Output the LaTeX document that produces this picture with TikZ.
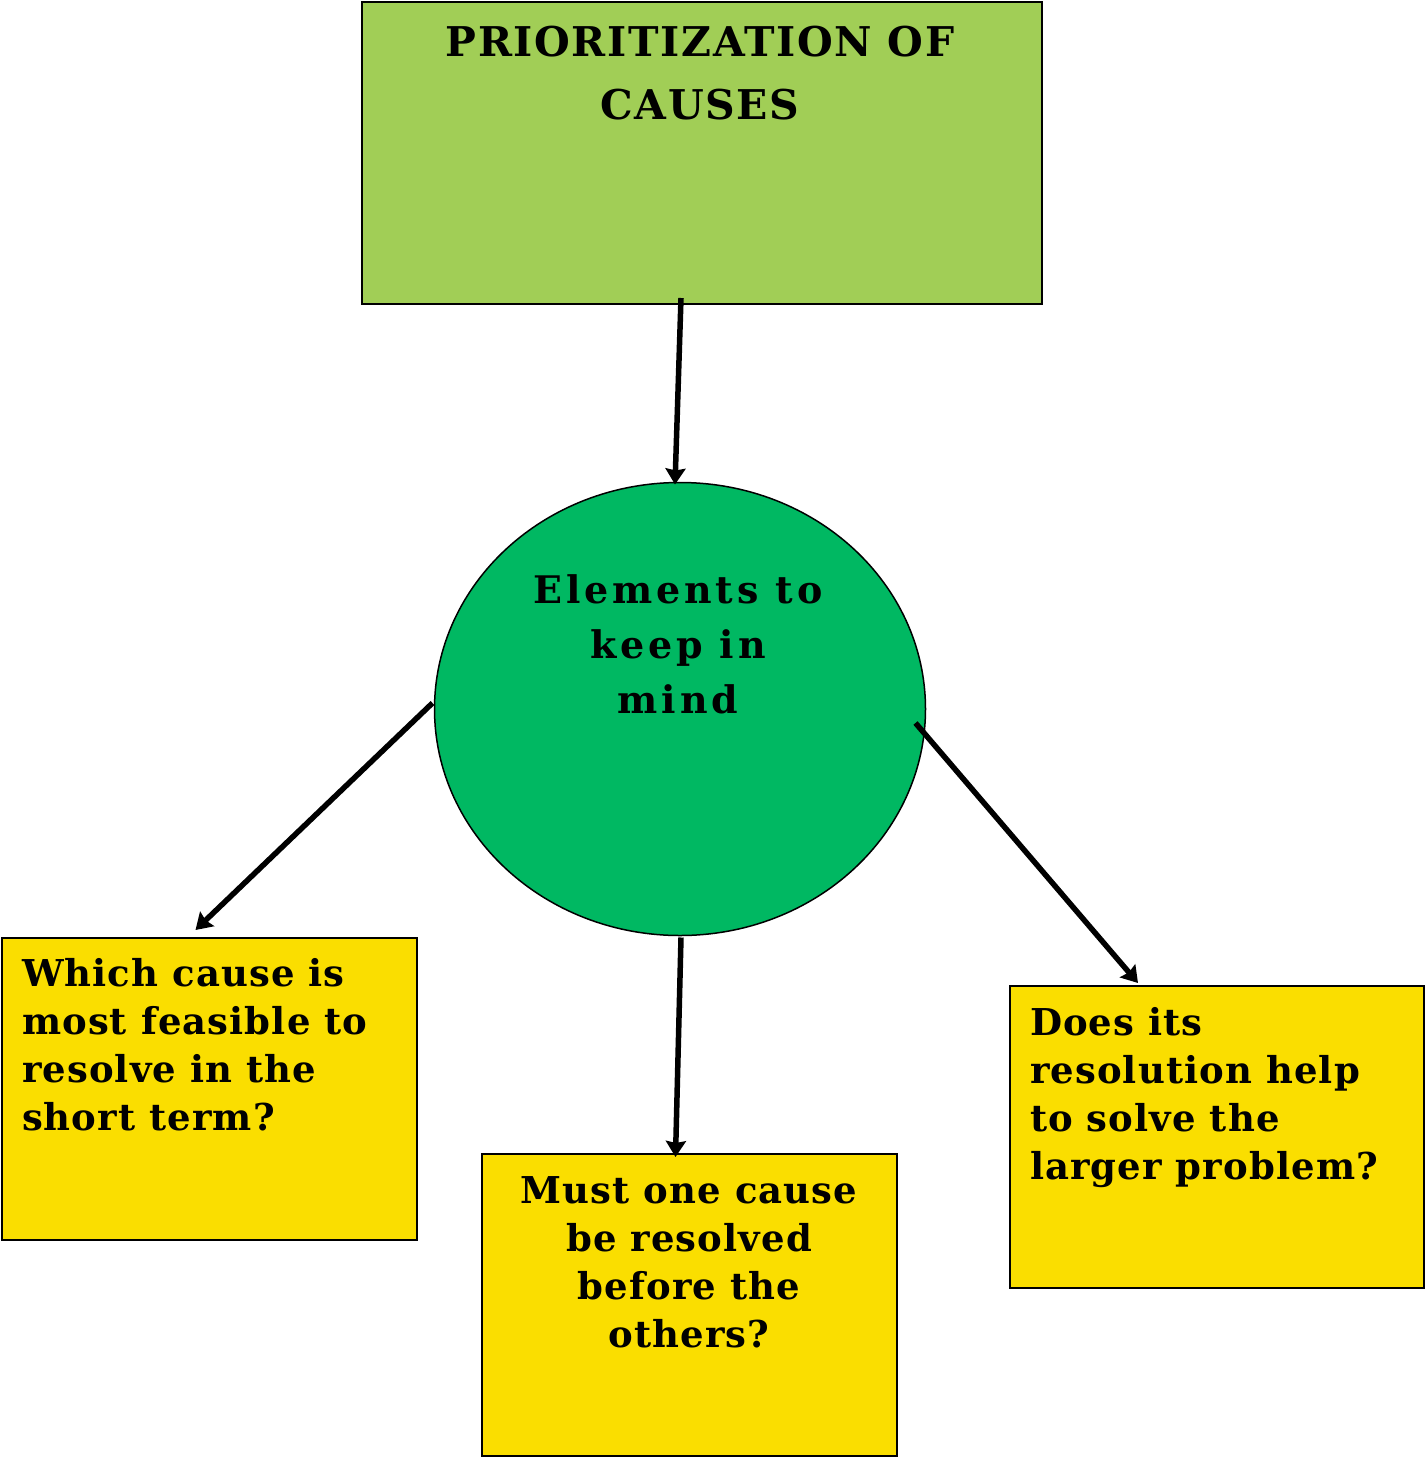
\documentclass[tikz,border=0pt]{standalone}
\usepackage{fontspec}
\setmainfont{DejaVu Serif}[LetterSpace=3]
\newfontfamily\titlefont{DejaVu Serif}[LetterSpace=4]
\newfontfamily\widefont{DejaVu Serif}[LetterSpace=10]
\usetikzlibrary{arrows.meta,calc,shapes.geometric}
\definecolor{topgreen}{RGB}{161,206,86}
\definecolor{midgreen}{RGB}{0,184,98}
\definecolor{qyellow}{RGB}{250,222,0}
\begin{document}
\begin{tikzpicture}[x=1pt,y=-1pt,
  box/.style={draw=black,line width=2pt,inner sep=0pt,outer sep=0pt},
  txt/.style={inner sep=0pt,outer sep=0pt,font=\bfseries\fontsize{37}{48}\selectfont},
  link/.style={line width=5.5pt,-{Stealth[length=16pt,width=20pt,inset=2pt]}}]
\useasboundingbox (0,0) rectangle (1425,1458);
% shapes
\node[box,fill=topgreen,minimum width=680pt,minimum height=302pt] (top) at (702,153) {};
\node[box,fill=midgreen,ellipse,line width=1.5pt,minimum width=491pt,minimum height=453pt] (mid) at (680,709) {};
\node[box,fill=qyellow,minimum width=415pt,minimum height=302pt] (q1) at (209.5,1089) {};
\node[box,fill=qyellow,minimum width=415pt,minimum height=302pt] (q2) at (689.5,1305) {};
\node[box,fill=qyellow,minimum width=414pt,minimum height=302pt] (q3) at (1217,1137) {};
% texts
\node[txt,anchor=north,align=center,font=\titlefont\bfseries\fontsize{41}{63}\selectfont] (ttop) at (700,26)
  {\rule{0pt}{31pt}PRIORITIZATION OF\\CAUSES};
\node[txt,anchor=north,align=center,font=\widefont\bfseries\fontsize{38}{55}\selectfont] (tmid) at (678,573)
  {\rule{0pt}{30pt}Elements to\\keep in\\mind};
\node[txt,anchor=north west,align=left] (tq1) at (22,956)
  {\rule{0pt}{30pt}Which cause is\\most feasible to\\resolve in the\\short term?};
\node[txt,anchor=north,align=center] (tq2) at (689,1173)
  {\rule{0pt}{30pt}Must one cause\\be resolved\\before the\\others?};
\node[txt,anchor=north west,align=left] (tq3) at (1030,1005)
  {\rule{0pt}{30pt}Does its\\resolution help\\to solve the\\larger problem?};
% connectors
\draw[link] ($(top.south)+(-21,-6)$) -- ($(mid.north)+(-5,2)$);
\draw[link] ($(mid.west)+(-2,-6)$) -- ($(q1.north)+(-14,-8)$);
\draw[link] ($(mid.south)+(1,2)$) -- ($(q2.north)+(-14,3)$);
\draw[link] ($(mid.east)+(-10,14)$) -- ($(q3.north)+(-79,-3)$);
\end{tikzpicture}
\end{document}
